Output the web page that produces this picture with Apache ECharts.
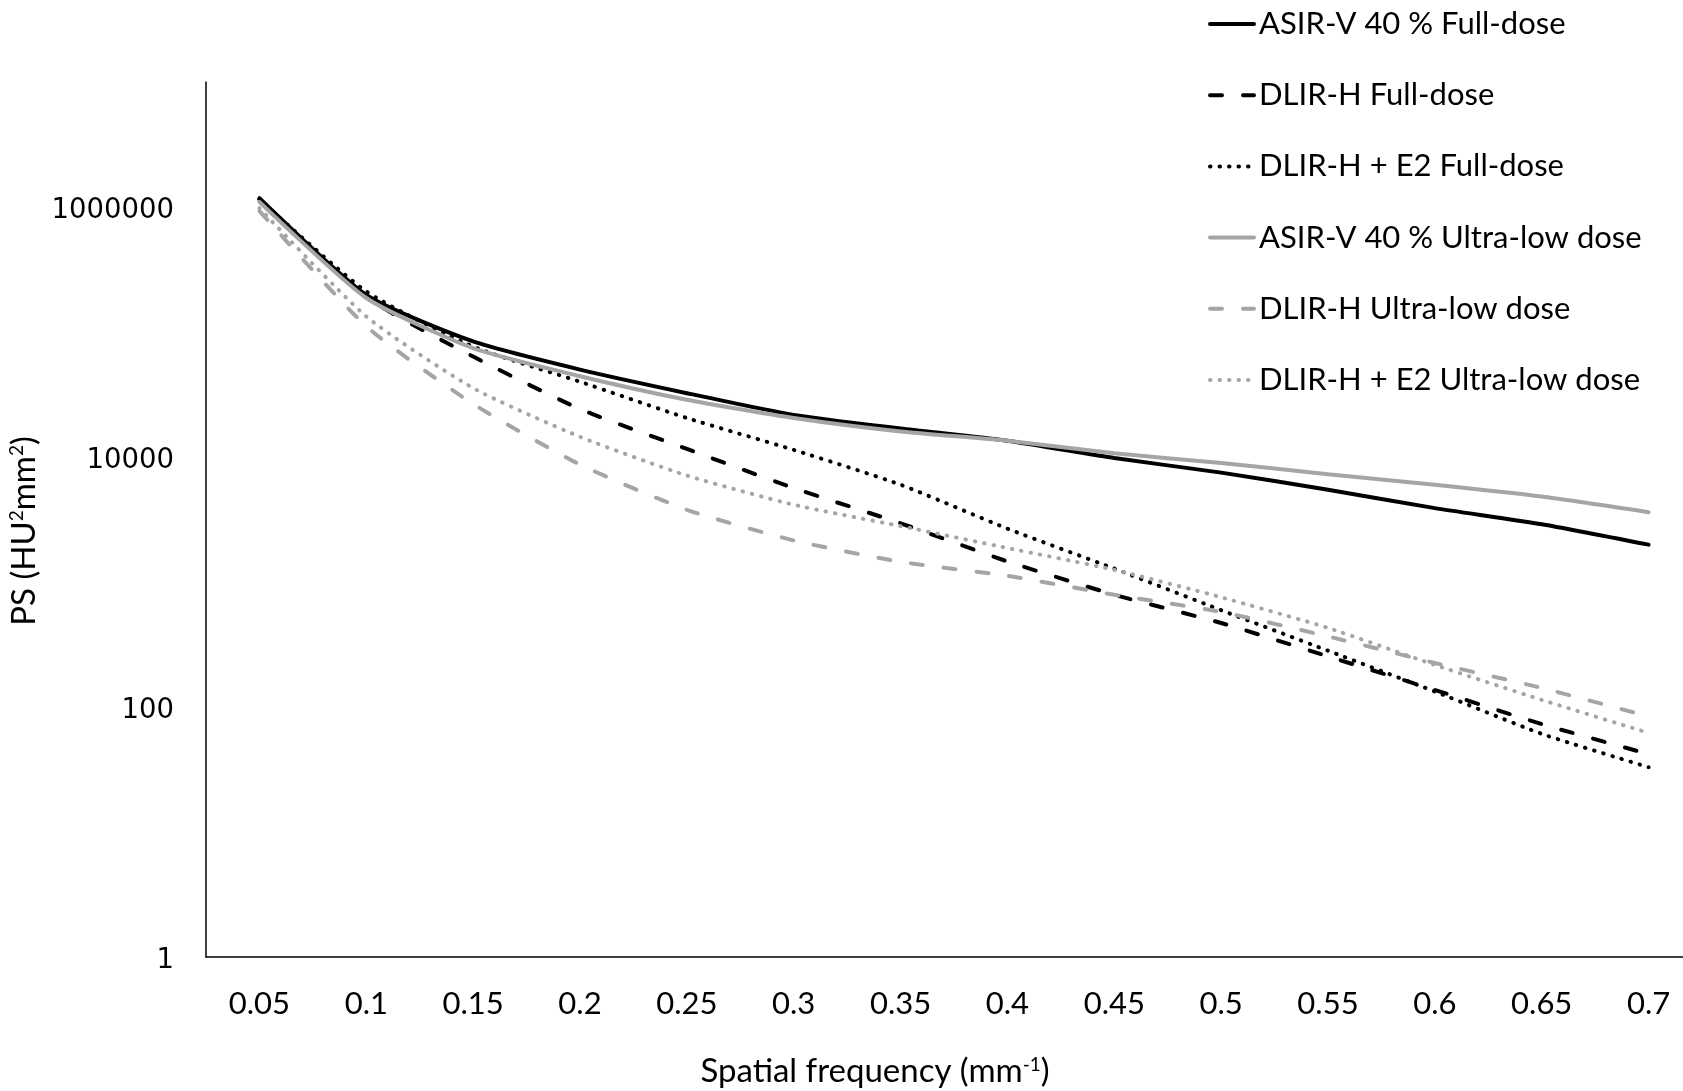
<!DOCTYPE html>
<html>
<head>
<meta charset="utf-8">
<title>PS curves</title>
<script src="https://cdn.jsdelivr.net/npm/echarts@6/dist/echarts.min.js"></script>
<style>
	html, body { margin: 0; padding: 0; background: #fff; }
	#psChart { width: 1683px; height: 1091px; }
</style>
</head>
<body>
<div id="psChart"></div>
<script>
// spatial frequency (mm-1)
var freqs = ['0.05', '0.1', '0.15', '0.2', '0.25', '0.3', '0.35', '0.4', '0.45', '0.5', '0.55', '0.6', '0.65', '0.7'];

// noise power spectrum values (HU2mm2)
var asirFull = [1175000, 198000, 84000, 50000, 32400, 21700, 16900, 13500, 9800, 7500, 5470, 3900, 2900, 1990];
var dlirFull = [1150000, 190000, 63600, 24200, 11600, 5640, 2950, 1460, 791, 470, 254, 137, 73, 42];
var dlirE2Full = [1150000, 211000, 76500, 40000, 20500, 11400, 6000, 2670, 1280, 595, 282, 133, 61, 33];
var asirUld = [1100000, 187000, 74300, 44300, 28700, 20500, 16000, 13500, 10700, 8940, 7290, 6000, 4830, 3620];
var dlirUld = [930000, 111000, 26600, 8700, 3780, 2150, 1450, 1120, 791, 576, 367, 225, 142, 84];
var dlirE2Uld = [980000, 133000, 35600, 14500, 7110, 4150, 2800, 1870, 1250, 755, 429, 217, 114, 62];

// labelled ticks on the log axis
var yTickLabels = [1, 100, 10000, 1000000];

var black = '#000000';
var grey = '#a5a5a5';
var dashed = [12, 21];
var dotted = [0.5, 9];

function makeLine(name, data, color, type){
	return {
		name: name,
		type: 'line',
		data: data,
		smooth: 0.2,
		symbol: 'none',
		lineStyle: { color: color, width: 4, type: type, cap: 'round' },
		itemStyle: { color: color }
	};
}

var chart = echarts.init(document.getElementById('psChart'));

var option = {
	animation: false,
	backgroundColor: '#ffffff',
	// plot runs past the right edge, like the original
	grid: { left: 206, top: 82, width: 1496, height: 875, outerBoundsMode: 'none' },
	legend: {
		orient: 'vertical',
		left: 1208,
		top: 7,
		padding: 0,
		itemWidth: 44,
		itemHeight: 14,
		itemGap: 37.2,
		itemStyle: { opacity: 0 },
		lineStyle: { width: 4, cap: 'round' },
		textStyle: { fontFamily: 'Lato', fontSize: 31, lineHeight: 34, color: '#000' },
		data: ['ASIR-V 40 % Full-dose', 'DLIR-H Full-dose', 'DLIR-H + E2 Full-dose',
			'ASIR-V 40 % Ultra-low dose', 'DLIR-H Ultra-low dose', 'DLIR-H + E2 Ultra-low dose']
	},
	xAxis: {
		type: 'category',
		data: freqs,
		boundaryGap: true,
		name: 'Spatial frequency (mm{sup|-1})',
		nameLocation: 'middle',
		nameGap: 98,
		nameTextStyle: {
			fontFamily: 'Lato', fontSize: 33, color: '#000',
			padding: [0, 158, 0, 0],
			rich: { sup: { fontFamily: 'Lato', fontSize: 19, verticalAlign: 'top', padding: [0, 0, 14, 0] } }
		},
		axisLine: { lineStyle: { color: '#000', width: 1.5 } },
		axisTick: { show: false },
		axisLabel: { fontFamily: 'Lato', fontSize: 31, color: '#000', margin: 31 },
		splitLine: { show: false }
	},
	yAxis: {
		type: 'log',
		logBase: 10,
		min: 1,
		max: 10000000,
		name: 'PS (HU{sup|2}mm{sup|2})',
		nameLocation: 'middle',
		nameGap: 146,
		nameTextStyle: {
			fontFamily: 'Lato', fontSize: 33, color: '#000',
			padding: [0, 23, 0, 0],
			rich: { sup: { fontFamily: 'Lato', fontSize: 19, verticalAlign: 'top', padding: [0, 0, 14, 0] } }
		},
		axisLine: { show: true, lineStyle: { color: '#000', width: 1.5 } },
		axisTick: { show: false },
		splitLine: { show: false },
		axisLabel: {
			color: '#000', margin: 32,
			rich: { v: { fontFamily: 'DejaVu Sans', fontSize: 27.5, color: '#000', padding: [8, 0, 0, 0] } },
			formatter: function(v){
				var n = Math.round(v);
				return yTickLabels.indexOf(n) >= 0 ? '{v|' + n + '}' : '';
			}
		}
	},
	series: [
		makeLine('ASIR-V 40 % Full-dose', asirFull, black, 'solid'),
		makeLine('DLIR-H Full-dose', dlirFull, black, dashed),
		makeLine('DLIR-H + E2 Full-dose', dlirE2Full, black, dotted),
		makeLine('ASIR-V 40 % Ultra-low dose', asirUld, grey, 'solid'),
		makeLine('DLIR-H Ultra-low dose', dlirUld, grey, dashed),
		makeLine('DLIR-H + E2 Ultra-low dose', dlirE2Uld, grey, dotted)
	]
};

chart.setOption(option);

window.addEventListener('resize', function(){
	chart.resize();
});
</script>
</body>
</html>
